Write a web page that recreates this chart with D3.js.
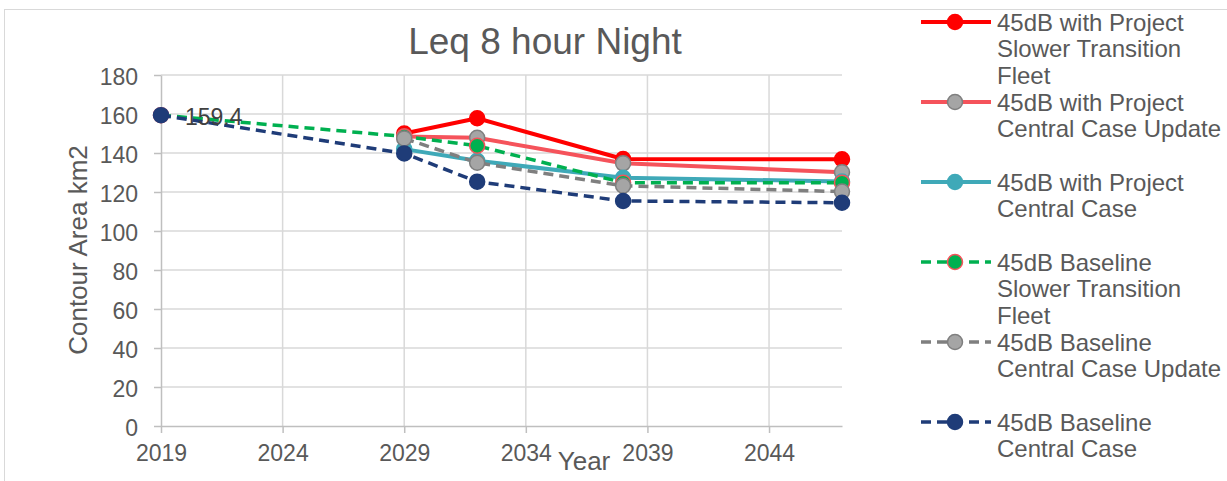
<!DOCTYPE html>
<html>
<head>
<meta charset="utf-8">
<script src="https://cdn.jsdelivr.net/npm/d3@7"></script>
<style>
  body { margin: 0; background: #fff; }
  text { font-family: "Liberation Sans", Arial, sans-serif; fill: #595959; }
</style>
</head>
<body>
<div id="chart"></div>
<script>
// years on the x axis and the contour area (km2) for each series
const years = [2019, 2029, 2032, 2038, 2047];
const xTicks = [2019, 2024, 2029, 2034, 2039, 2044];
const yTicks = [0, 20, 40, 60, 80, 100, 120, 140, 160, 180];

const projSlower = [null, 150, 157.8, 136.9, 136.8];
const projCentralUpdate = [null, 148.5, 147.8, 134.7, 130.1];
const projCentral = [null, 142, 136, 127.3, 125.4];
const baseSlower = [159.4, 148.5, 143.7, 124.8, 124.8];
const baseCentralUpdate = [null, 147.5, 135, 123.2, 120.2];
const baseCentral = [159.4, 139.8, 125.3, 115.4, 114.5];

const seriesNames = [
    ['45dB with Project', 'Slower Transition', 'Fleet'],
    ['45dB with Project', 'Central Case Update'],
    ['45dB with Project', 'Central Case'],
    ['45dB Baseline', 'Slower Transition', 'Fleet'],
    ['45dB Baseline', 'Central Case Update'],
    ['45dB Baseline', 'Central Case']
];

const series = [
    { values: projSlower, line: '#ff0000', fill: '#ff0000', stroke: '#ff0000', dash: null },
    { values: projCentralUpdate, line: '#f5535b', fill: '#a5a5a5', stroke: '#7f7f7f', dash: null },
    { values: projCentral, line: '#3fa9b8', fill: '#3fa9b8', stroke: '#3fa9b8', dash: null },
    { values: baseSlower, line: '#00b050', fill: '#00b050', stroke: '#f5535b', dash: '10,6' },
    { values: baseCentralUpdate, line: '#7f7f7f', fill: '#a5a5a5', stroke: '#7f7f7f', dash: '10,6' },
    { values: baseCentral, line: '#1f3c78', fill: '#1f3c78', stroke: '#1f3c78', dash: '10,6' }
];

const svgWidth = 1227;
const svgHeight = 481;

const svg = d3.select('#chart').append('svg')
    .attr('width', svgWidth)
    .attr('height', svgHeight);

// chart frame
svg.append('rect')
    .attr('x', 4.5).attr('y', 9.5)
    .attr('width', 1400).attr('height', 600)
    .attr('fill', 'none')
    .attr('stroke', '#d9d9d9');

const x = d3.scaleLinear().domain([2019, 2047]).range([161, 842]);
const y = d3.scaleLinear().domain([0, 180]).range([426, 75]);

// gridlines
svg.append('g').selectAll('line.h').data(yTicks.slice(1)).enter()
    .append('line')
    .attr('x1', x(2019)).attr('x2', x(2047))
    .attr('y1', d => y(d)).attr('y2', d => y(d))
    .attr('stroke', '#d9d9d9').attr('stroke-width', 1.5);
svg.append('g').selectAll('line.v').data(xTicks.slice(1)).enter()
    .append('line')
    .attr('x1', d => x(d)).attr('x2', d => x(d))
    .attr('y1', y(0)).attr('y2', y(180))
    .attr('stroke', '#d9d9d9').attr('stroke-width', 1.5);

// axes
const xAxis = svg.append('g')
    .attr('transform', 'translate(0,' + y(0) + ')')
    .call(d3.axisBottom(x).tickValues(xTicks).tickFormat(d3.format('d')).tickSize(7).tickPadding(12).tickSizeOuter(0));
const yAxis = svg.append('g')
    .attr('transform', 'translate(' + x(2019) + ',0)')
    .call(d3.axisLeft(y).tickValues(yTicks).tickSize(7).tickPadding(16).tickSizeOuter(0));

[xAxis, yAxis].forEach(a => {
    a.select('.domain').attr('stroke', '#bfbfbf').attr('stroke-width', 1.5);
    a.selectAll('.tick line').attr('stroke', '#bfbfbf').attr('stroke-width', 1.5);
    a.selectAll('.tick text')
        .style('font-family', '"Liberation Sans", Arial, sans-serif')
        .style('font-size', '23px')
        .attr('fill', '#595959');
});
yAxis.selectAll('.tick text').attr('dy', '0.4em');

// lines and markers
const lineGen = d3.line()
    .defined(d => d[1] !== null)
    .x(d => x(d[0]))
    .y(d => y(d[1]));

series.forEach(s => {
    const pts = years.map((yr, i) => [yr, s.values[i]]);
    svg.append('path')
        .datum(pts)
        .attr('d', lineGen)
        .attr('fill', 'none')
        .attr('stroke', s.line)
        .attr('stroke-width', s.dash ? 3.5 : 4)
        .attr('stroke-dasharray', s.dash)
        .attr('stroke-linejoin', 'round');
    svg.append('g').selectAll('circle')
        .data(pts.filter(d => d[1] !== null)).enter()
        .append('circle')
        .attr('cx', d => x(d[0]))
        .attr('cy', d => y(d[1]))
        .attr('r', 7.5)
        .attr('fill', s.fill)
        .attr('stroke', s.stroke)
        .attr('stroke-width', 1.5);
});

// data label
svg.append('text')
    .attr('x', x(2019) + 24)
    .attr('y', y(baseCentral[0]) + 10)
    .style('font-size', '23px')
    .attr('fill', '#404040')
    .style('fill', '#404040')
    .text(baseCentral[0]);

// titles
svg.append('text')
    .attr('x', 545)
    .attr('y', 54)
    .attr('text-anchor', 'middle')
    .style('font-size', '37px')
    .text('Leq 8 hour Night');

svg.append('text')
    .attr('x', 584)
    .attr('y', 470)
    .attr('text-anchor', 'middle')
    .style('font-size', '26px')
    .text('Year');

svg.append('text')
    .attr('transform', 'translate(87,250) rotate(-90)')
    .attr('text-anchor', 'middle')
    .style('font-size', '26px')
    .text('Contour Area km2');

// legend
const legend = svg.append('g');
series.forEach((s, i) => {
    const ly = 22 + i * 80;
    const g = legend.append('g');
    g.append('line')
        .attr('x1', 921).attr('x2', 991)
        .attr('y1', ly).attr('y2', ly)
        .attr('stroke', s.line)
        .attr('stroke-width', s.dash ? 3.5 : 4)
        .attr('stroke-dasharray', s.dash);
    g.append('circle')
        .attr('cx', 955).attr('cy', ly)
        .attr('r', 7.5)
        .attr('fill', s.fill)
        .attr('stroke', s.stroke)
        .attr('stroke-width', 1.5);
    const t = g.append('text')
        .attr('x', 997)
        .attr('y', ly + 8.5)
        .style('font-size', '24px');
    seriesNames[i].forEach((line, j) => {
        t.append('tspan')
            .attr('x', 997)
            .attr('dy', j === 0 ? 0 : 26.8)
            .text(line);
    });
});
</script>
</body>
</html>
